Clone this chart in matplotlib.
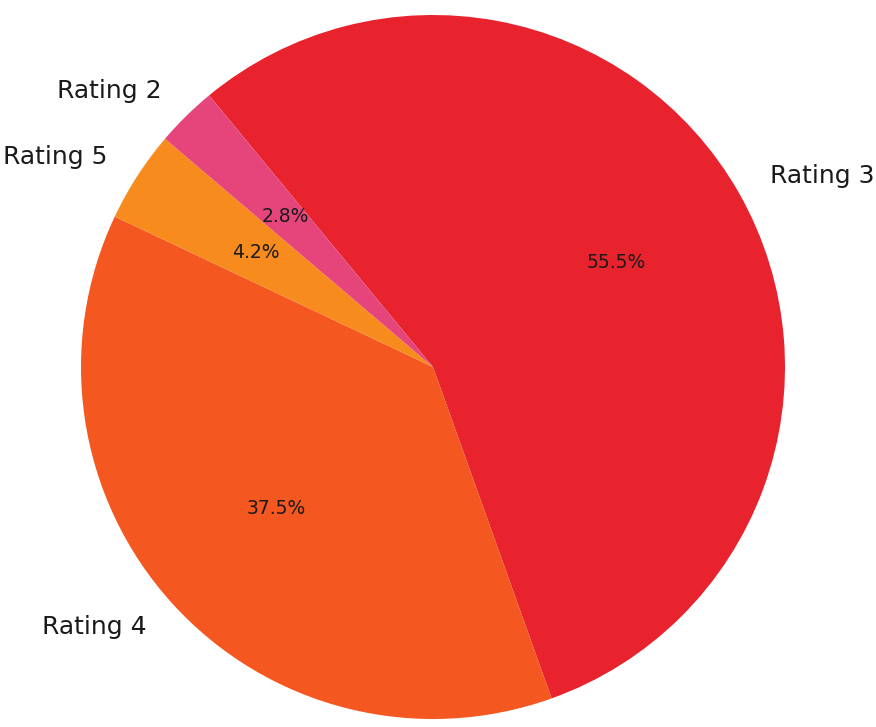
import matplotlib
matplotlib.use('Agg')
import matplotlib.pyplot as plt

#Pie data (order as drawn, clockwise)
labels = ['Rating 3', 'Rating 4', 'Rating 5', 'Rating 2']
shares = [55.5, 37.5, 4.2, 2.8]
colors = ['#e8232d', '#f4571f', '#f78b1d', '#e6457b']

fig = plt.figure(figsize=(8.76, 7.27), dpi=100)
ax = fig.add_axes([0, 0, 1, 1])

wedges, texts, autotexts = ax.pie(shares, labels=labels, colors=colors,
                                  autopct='%1.1f%%', startangle=129.5,
                                  counterclock=False, radius=1.0,
                                  textprops={'fontsize': 18, 'color': '#1a1a1a'})
for t in autotexts:
    t.set_fontsize(13.5)

#Place the pie: centre at pixel (433, 367), radius 352 px
R = 352.0
ax.set_xlim(-433 / R, (876 - 433) / R)
ax.set_ylim(-(727 - 367) / R, 367 / R)
ax.set_aspect('auto')
ax.axis('off')

fig.savefig('out.png', dpi=100)
